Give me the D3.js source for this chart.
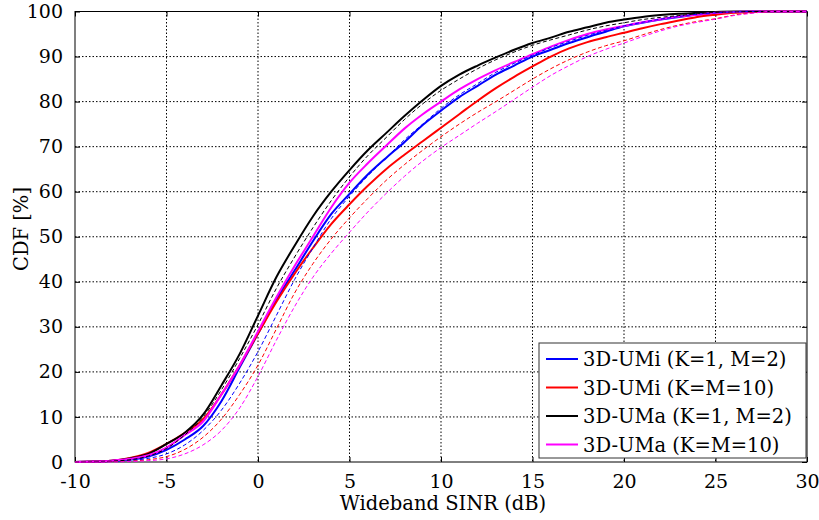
<!DOCTYPE html>
<html><head><meta charset="utf-8">
<script src="https://cdn.jsdelivr.net/npm/d3@7"></script>
<style>
html,body{margin:0;padding:0;background:#fff;}
svg{display:block;}
svg text{font-family:"DejaVu Serif",serif !important;fill:#000;}
</style></head>
<body>
<svg id="chart" width="819" height="520"></svg>
<script>
// ---- data ----
const xGrid = [-10,-8,-7,-6,-5,-4,-3,-2,-1,0,1,2,3,4,5,6,7,8,9,10,11,12,13,14,15,16,17,18,19,20,21,22,23,24,25,26,27,28,30];
const umiK1 =     [0,0.2,0.5,1.2,2.7,5,8,13.5,21,28.5,36,42.5,49,55,59.5,63.8,67.5,71,74.8,78,81,83.5,86,88,90,91.5,93,94.3,95.5,96.7,97.5,98.2,98.8,99.3,99.6,99.9,100,100,100];
const umiK10 =    [0,0.3,0.9,2,4,6.5,9.5,15,21.5,28.5,35.5,41.8,47.5,52.8,57.2,61.3,65,68.2,71.2,74.2,77.2,80.2,83,85.5,87.8,90,91.8,93.2,94.3,95.3,96.3,97.2,98,98.8,99.3,99.7,99.9,100,100];
const umaK1 =     [0,0.3,0.8,1.8,4,6.5,10.5,17,24,32.5,41,48,54.5,60,64.8,69.2,73,76.8,80.3,83.5,86,88,89.8,91.5,93,94.2,95.5,96.5,97.5,98.2,98.8,99.2,99.5,99.7,99.9,100,100,100,100];
const umaK10 =    [0,0.3,0.7,1.5,3.2,6,9,15,21.5,29,36.5,43.5,50,56.5,62,66.3,70.2,74,77.2,80,82.7,85,87,88.8,90.5,92.2,93.7,95,96,96.8,97.6,98.3,98.9,99.3,99.7,99.9,100,100,100];
const umiK1Fit =  [0,0.1,0.3,0.8,1.8,3.8,7,11.5,17.5,24.5,32.5,40.5,47.5,54,59,63.5,67.5,71.5,75,78.5,81.5,84,86.5,88.5,90.3,92,93.4,94.7,95.8,96.8,97.6,98.3,98.9,99.4,99.7,99.9,100,100,100];
const umiK10Fit = [0,0.1,0.2,0.5,1.2,2.8,5.5,9.5,15,21.5,29.5,37.5,44,49.5,54.2,58.5,62.5,66,69.2,72.2,75,77.6,80,82.5,85,87.3,89.3,91,92.4,93.5,94.8,96,97,97.8,98.4,99.2,99.7,100,100];
const umaK1Fit =  [0,0.2,0.5,1.3,3,6,10,16,23,30.5,38.5,45.5,52,58,63.3,68,72,76,79.5,82.5,85,87.3,89.3,91,92.5,93.7,94.8,95.9,96.8,97.5,98.2,98.7,99.1,99.5,99.8,99.9,100,100,100];
const umaK10Fit = [0,0,0.1,0.3,0.7,1.8,3.8,7,12,19,27,34.5,41,46.3,51,55.5,59.6,63.4,66.8,69.8,72.5,75.2,77.8,80.5,83.2,85.8,88,90,91.6,93,94.4,95.7,96.8,97.6,98.3,99.1,99.6,100,100];

const seriesNames = ["3D-UMi (K=1, M=2)","3D-UMi (K=M=10)","3D-UMa (K=1, M=2)","3D-UMa (K=M=10)"];
const seriesColors = ["#0000ff","#ff0000","#000000","#ff00ff"];
const solidData = [umiK1, umiK10, umaK1, umaK10];
const dashedData = [umiK1Fit, umiK10Fit, umaK1Fit, umaK10Fit];
const xTicks = [-10,-5,0,5,10,15,20,25,30];
const yTicks = [0,10,20,30,40,50,60,70,80,90,100];
const xLabel = "Wideband SINR (dB)";
const yLabel = "CDF [%]";

// ---- layout ----
const svg = d3.select("#chart");
const L = 75, R = 807, T = 11.5, B = 462;
const x = d3.scaleLinear().domain([-10,30]).range([L,R]);
const y = d3.scaleLinear().domain([0,100]).range([B,T]);

// grid
const grid = svg.append("g");
grid.selectAll("line.gx").data(xTicks.slice(1,-1)).join("line")
  .attr("x1",d=>x(d)).attr("x2",d=>x(d)).attr("y1",T).attr("y2",B)
  .attr("stroke","#000").attr("stroke-width",1).attr("stroke-dasharray","1.5,2");
grid.selectAll("line.gy").data(yTicks.slice(1,-1)).join("line")
  .attr("y1",d=>y(d)).attr("y2",d=>y(d)).attr("x1",L).attr("x2",R)
  .attr("stroke","#000").attr("stroke-width",1).attr("stroke-dasharray","1.5,2");

// axes
const fs = 19, fsL = 19.5;
const gx = svg.append("g").attr("transform",`translate(0,${B})`)
  .call(d3.axisBottom(x).tickValues(xTicks).tickSize(-5).tickPadding(13).tickFormat(d3.format("d")));
const gy = svg.append("g").attr("transform",`translate(${L},0)`)
  .call(d3.axisLeft(y).tickValues(yTicks).tickSize(-5).tickPadding(12).tickFormat(d3.format("d")));
const gx2 = svg.append("g").attr("transform",`translate(0,${T})`)
  .call(d3.axisTop(x).tickValues(xTicks).tickSize(-5).tickFormat(""));
const gy2 = svg.append("g").attr("transform",`translate(${R},0)`)
  .call(d3.axisRight(y).tickValues(yTicks).tickSize(-5).tickFormat(""));
[gx,gy,gx2,gy2].forEach(g=>{
  g.attr("font-family",null);
  g.select(".domain").remove();
  g.selectAll("line").attr("stroke","#000");
  g.selectAll("text").style("font-size",fs+"px").attr("fill","#000");
});
gx.selectAll("text").text(d=>d<0?"-"+Math.abs(d):d);

// frame
svg.append("rect").attr("x",L).attr("y",T).attr("width",R-L).attr("height",B-T)
  .attr("fill","none").attr("stroke","#000").attr("stroke-width",1);

// lines
const line = d3.line().x((d,i)=>x(xGrid[i])).y(d=>y(d)).curve(d3.curveMonotoneX);
const plot = svg.append("g");
solidData.forEach((s,k)=>{
  plot.append("path").datum(s).attr("d",line).attr("fill","none")
    .attr("stroke",seriesColors[k]).attr("stroke-width",2);
});
dashedData.forEach((s,k)=>{
  plot.append("path").datum(s).attr("d",line).attr("fill","none")
    .attr("stroke",seriesColors[k]).attr("stroke-width",1).attr("stroke-dasharray","4,2.5");
});

// legend
const lg = svg.append("g");
lg.append("rect").attr("x",539).attr("y",343).attr("width",267).attr("height",115)
  .attr("fill","#fff").attr("stroke","#333").attr("stroke-width",1);
seriesNames.forEach((n,k)=>{
  const cy = 359 + k*28.5;
  lg.append("line").attr("x1",546).attr("x2",578).attr("y1",cy).attr("y2",cy)
    .attr("stroke",seriesColors[k]).attr("stroke-width",2);
  lg.append("text").attr("x",583).attr("y",cy+7).style("font-size",fsL+"px").text(n);
});

// axis titles
svg.append("text").attr("x",443).attr("y",510).attr("text-anchor","middle")
  .style("font-size",fsL+"px").text(xLabel);
svg.append("text").attr("transform","translate(28,229) rotate(-90)").attr("text-anchor","middle")
  .style("font-size",fsL+"px").text(yLabel);
</script>
</body></html>
